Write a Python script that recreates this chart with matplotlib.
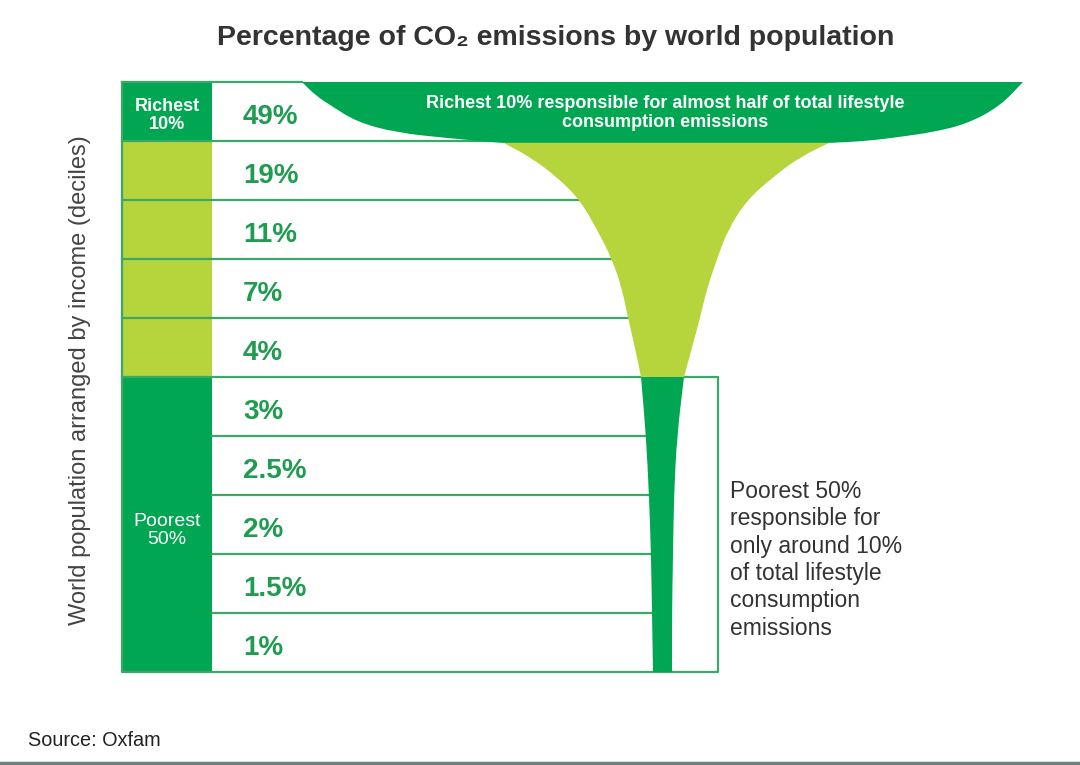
import numpy as np
import matplotlib
matplotlib.use("Agg")
import matplotlib.pyplot as plt
from matplotlib.path import Path
from matplotlib.patches import PathPatch

plt.rcParams['font.family'] = ['Liberation Sans', 'DejaVu Sans']

# --- data -----------------------------------------------------------------
shares = ["49%", "19%", "11%", "7%", "4%", "3%", "2.5%", "2%", "1.5%", "1%"]
groups = ["Richest\n10%", "", "", "", "", "Poorest\n50%"]

# funnel profile: depth in rows, edges in px
top_left_rows = [0, 0.22, 0.39, 0.68, 0.86, 0.95, 1.03]
top_left_x = [302, 315, 330, 357, 397, 447, 500]
top_right_rows = [0, 0.41, 0.71, 0.85, 0.93, 1.0, 1.03]
top_right_x = [1023, 1000, 967, 933, 900, 867, 833]

mid_rows = [1.0, 1.27, 1.61, 2.0, 2.5, 3.0, 3.5, 4.0, 4.5, 5.0]
mid_left = [500, 530, 557, 580, 597, 612, 622, 628, 635, 641]
mid_right = [833, 800, 773, 747, 728, 717, 707, 700, 692, 684]

stem_rows = [5, 6, 7, 8, 9, 10]
stem_left = [641, 646, 649, 651, 652, 653]
stem_right = [684, 677, 674, 673, 672, 672]

# --- style ----------------------------------------------------------------
DARK = '#00a651'
LIGHT = '#b6d43c'
LINE = '#3aa867'
PCT = '#1f9c50'
GREY = '#333333'

W, H = 1080, 765
TOP, ROW = 82, 59          # table top (px) and row height (px)
X0, X1, XBOX = 122, 212, 718


def ry(r):
    return TOP + np.asarray(r, dtype=float) * ROW


def smooth(xs, ys):
    """quadratic b-spline through midpoints -> (vertices, codes)"""
    p = np.column_stack([xs, ys])
    verts, codes = [p[0]], [Path.LINETO]
    if len(p) > 2:
        verts.append((p[0] + p[1]) / 2)
        codes.append(Path.LINETO)
        for i in range(1, len(p) - 1):
            verts += [p[i], (p[i] + p[i + 1]) / 2]
            codes += [Path.CURVE3, Path.CURVE3]
    verts.append(p[-1])
    codes.append(Path.LINETO)
    return verts, codes


def shape(lx, ly, rx, ry_, color, z):
    v1, c1 = smooth(lx, ly)
    v2, c2 = smooth(rx[::-1], ry_[::-1])
    verts = v1 + v2 + [v1[0]]
    codes = c1 + c2 + [Path.CLOSEPOLY]
    codes[0] = Path.MOVETO
    ax.add_patch(PathPatch(Path(verts, codes), fc=color, lw=0, zorder=z))


fig = plt.figure(figsize=(W / 100, H / 100), dpi=100)
ax = fig.add_axes([0, 0, 1, 1])
ax.set_xlim(0, W)
ax.set_ylim(H, 0)
ax.axis('off')

# left column cells
ax.fill_between([X0, X1], ry(0), ry(1), color=DARK, lw=0, zorder=0)
ax.fill_between([X0, X1], ry(1), ry(5), color=LIGHT, lw=0, zorder=0)
ax.fill_between([X0, X1], ry(5), ry(10), color=DARK, lw=0, zorder=0)

# funnel
shape(top_left_x, ry(top_left_rows), top_right_x, ry(top_right_rows), DARK, 3)
shape(mid_left, ry(mid_rows), mid_right, ry(mid_rows), LIGHT, 2)
shape(stem_left, ry(stem_rows), stem_right, ry(stem_rows), DARK, 3)

# grid lines
edge_rows = mid_rows + stem_rows[1:]
edge_x = mid_left + stem_left[1:]
lw = 1.6
ax.plot([X0, top_left_x[0]], [ry(0)] * 2, color=LINE, lw=lw, zorder=1)
for r in range(1, 10):
    if r == 5:
        continue
    xe = np.interp(r, edge_rows, edge_x)
    xs = X0 if r < 5 else X1
    ax.plot([xs, xe], [ry(r)] * 2, color=LINE, lw=lw, zorder=1)
ax.plot([X0, XBOX, XBOX, X0, X0], [ry(5), ry(5), ry(10), ry(10), ry(0)],
        color=LINE, lw=lw, zorder=1)

# labels
for i, s in enumerate(shares):
    ax.text(243, ry(i + 0.6), s, color=PCT, fontsize=20, fontweight='bold',
            ha='left', va='center')
ax.text((X0 + X1) / 2, ry(0.57), groups[0], color='white', fontsize=13,
        fontweight='bold', ha='center', va='center', linespacing=1.05)
ax.text((X0 + X1) / 2, ry(7.6), groups[5], color='white', fontsize=14,
        ha='center', va='center', linespacing=1.08)

ax.text(665, ry(0.53), "Richest 10% responsible for almost half of total lifestyle\n"
        "consumption emissions", color='white', fontsize=13, fontweight='bold',
        ha='center', va='center', linespacing=1.12, zorder=4)
ax.text(730, ry(8.1), "Poorest 50%\nresponsible for\nonly around 10%\n"
        "of total lifestyle\nconsumption\nemissions", color=GREY, fontsize=16.5,
        ha='left', va='center', linespacing=1.24)

ax.text(556, 38, "Percentage of CO\u2082 emissions by world population", color=GREY,
        fontsize=20.5, fontweight='bold', ha='center', va='center')
ax.text(80, 380, "World population arranged by income (deciles)", color='#444444',
        fontsize=17, rotation=90, ha='center', va='center')
ax.text(28, 740, "Source: Oxfam", color='#222222', fontsize=14.3, ha='left', va='center')
ax.plot([0, W], [763, 763], color='#6e7f7f', lw=2.5)

fig.savefig("out.png", dpi=100)
